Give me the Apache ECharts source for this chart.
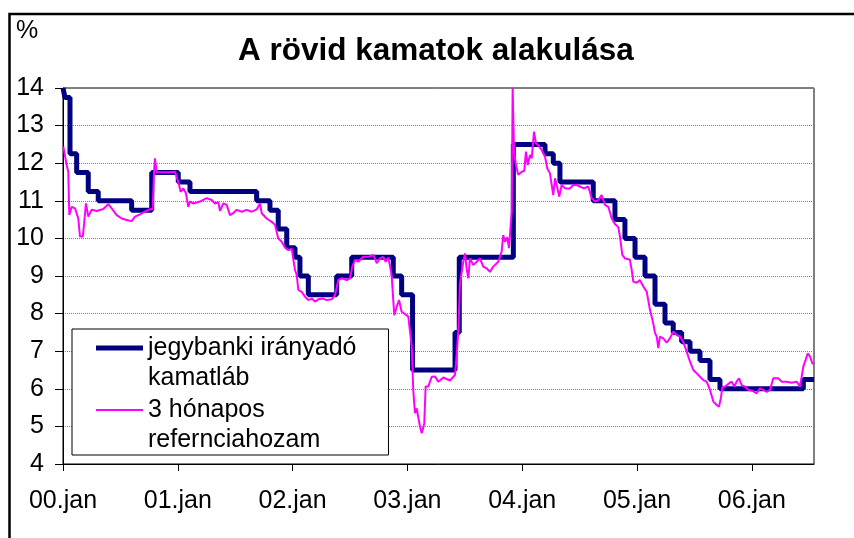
<!DOCTYPE html>
<html>
<head>
<meta charset="utf-8">
<script src="https://cdn.jsdelivr.net/npm/echarts@6/dist/echarts.min.js"></script>
<style>
html,body{margin:0;padding:0;background:#fff;}
#c{width:854px;height:538px;}
</style>
</head>
<body>
<div id="c"></div>
<script>
const FONT = '"Liberation Sans", Arial, Helvetica, sans-serif';

const titleText = 'A rövid kamatok alakulása';
const unitLabel = '%';
const seriesNames = ['jegybanki irányadó\nkamatláb', '3 hónapos\nrefernciahozam'];

// x axis: decimal years
const xMin = 2000;
const xMax = 2006.542;
const yearTicks = [2000, 2001, 2002, 2003, 2004, 2005, 2006];
const yearLabels = ['00.jan', '01.jan', '02.jan', '03.jan', '04.jan', '05.jan', '06.jan'];
const yMin = 4;
const yMax = 14;

// central bank base rate: change dates (decimal years) and new levels
const rateYears = [
  2000.000, 2000.017, 2000.061, 2000.119, 2000.220, 2000.307, 2000.598, 2000.773,
  2001.004, 2001.106, 2001.687, 2001.803, 2001.875, 2001.949,
  2002.021, 2002.064, 2002.137, 2002.384, 2002.515, 2002.877, 2002.950,
  2003.045, 2003.415, 2003.452, 2003.923,
  2004.199, 2004.271, 2004.329, 2004.619, 2004.808, 2004.895, 2004.983,
  2005.070, 2005.157, 2005.244, 2005.316, 2005.389, 2005.462, 2005.549, 2005.636, 2005.723,
  2006.449, 2006.542
];
const rateValues = [
  14.00, 13.75, 12.25, 11.75, 11.25, 11.00, 10.75, 11.75,
  11.50, 11.25, 11.00, 10.75, 10.25, 9.75,
  9.50, 9.00, 8.50, 9.00, 9.50, 9.00, 8.50,
  6.50, 7.50, 9.50, 12.50,
  12.25, 12.00, 11.50, 11.00, 10.50, 10.00, 9.50,
  9.00, 8.25, 7.75, 7.50, 7.25, 7.00, 6.75, 6.25, 6.00,
  6.25, 6.25
];

// 3-month reference yield
const yieldYears = [
  // 2000
  2000.003, 2000.032, 2000.046, 2000.055, 2000.076, 2000.105, 2000.133, 2000.148,
  2000.172, 2000.183, 2000.200, 2000.220, 2000.250, 2000.294, 2000.351, 2000.395,
  2000.424, 2000.468, 2000.511, 2000.555, 2000.598, 2000.627, 2000.671, 2000.714,
  2000.758, 2000.781, 2000.793, 2000.801, 2000.816, 2000.874, 2000.932, 2000.976,
  // 2001
  2001.004, 2001.025, 2001.048, 2001.071, 2001.091, 2001.106, 2001.135, 2001.193,
  2001.252, 2001.295, 2001.324, 2001.353, 2001.368, 2001.396, 2001.426, 2001.455,
  2001.483, 2001.513, 2001.557, 2001.600, 2001.644, 2001.687, 2001.716, 2001.731,
  2001.774, 2001.818, 2001.847, 2001.875, 2001.905, 2001.934, 2001.963, 2001.992,
  // 2002
  2002.021, 2002.036, 2002.050, 2002.079, 2002.108, 2002.137, 2002.166, 2002.195,
  2002.224, 2002.267, 2002.297, 2002.341, 2002.369, 2002.398, 2002.428, 2002.471,
  2002.500, 2002.520, 2002.544, 2002.572, 2002.616, 2002.659, 2002.703, 2002.733,
  2002.761, 2002.790, 2002.811, 2002.834, 2002.863, 2002.877, 2002.886, 2002.907,
  2002.927, 2002.950, 2002.979,
  // 2003
  2003.008, 2003.038, 2003.051, 2003.066, 2003.081, 2003.095, 2003.110, 2003.125,
  2003.147, 2003.159, 2003.182, 2003.212, 2003.240, 2003.269, 2003.313, 2003.371,
  2003.415, 2003.433, 2003.446, 2003.458, 2003.473, 2003.487, 2003.502, 2003.516,
  2003.531, 2003.545, 2003.574, 2003.604, 2003.632, 2003.661, 2003.691, 2003.720,
  2003.748, 2003.792, 2003.821, 2003.835, 2003.850, 2003.870, 2003.885, 2003.900,
  2003.909, 2003.917, 2003.929, 2003.946, 2003.966, 2003.996,
  // 2004
  2004.018, 2004.033, 2004.048, 2004.068, 2004.083, 2004.103, 2004.120, 2004.140,
  2004.170, 2004.199, 2004.219, 2004.242, 2004.257, 2004.271, 2004.286, 2004.301,
  2004.323, 2004.344, 2004.373, 2004.416, 2004.445, 2004.475, 2004.503, 2004.538,
  2004.576, 2004.605, 2004.634, 2004.663, 2004.692, 2004.721, 2004.750, 2004.780,
  2004.808, 2004.837, 2004.852, 2004.872, 2004.895, 2004.939, 2004.954, 2004.968,
  2004.997,
  // 2005
  2005.026, 2005.055, 2005.085, 2005.098, 2005.113, 2005.142, 2005.157, 2005.172,
  2005.186, 2005.200, 2005.229, 2005.259, 2005.287, 2005.316, 2005.346, 2005.375,
  2005.403, 2005.433, 2005.462, 2005.491, 2005.521, 2005.549, 2005.578, 2005.607,
  2005.636, 2005.665, 2005.694, 2005.714, 2005.732, 2005.743, 2005.767, 2005.795,
  2005.825, 2005.848, 2005.868, 2005.889, 2005.912, 2005.941, 2005.970,
  // 2006
  2006.004, 2006.043, 2006.071, 2006.100, 2006.130, 2006.159, 2006.187, 2006.202,
  2006.231, 2006.260, 2006.304, 2006.348, 2006.391, 2006.420, 2006.449, 2006.469,
  2006.487, 2006.507, 2006.527, 2006.542
];
const yieldValues = [
  // 2000
  12.44, 11.95, 11.77, 10.62, 10.84, 10.80, 10.53, 10.05,
  10.05, 10.36, 10.93, 10.58, 10.76, 10.73, 10.78, 10.91,
  10.80, 10.62, 10.53, 10.49, 10.46, 10.58, 10.64, 10.71,
  10.78, 10.76, 11.77, 12.13, 11.76, 11.76, 11.76, 11.77,
  // 2001
  11.51, 11.24, 11.33, 11.20, 10.84, 10.98, 10.93, 10.98,
  11.07, 11.02, 10.93, 10.96, 10.73, 10.93, 10.89, 10.62,
  10.67, 10.76, 10.71, 10.76, 10.71, 10.77, 10.93, 10.67,
  10.53, 10.44, 10.36, 10.00, 9.91, 9.76, 9.69, 9.73,
  // 2002
  9.16, 9.03, 8.63, 8.58, 8.45, 8.36, 8.40, 8.32,
  8.38, 8.40, 8.36, 8.38, 8.49, 8.89, 8.94, 8.89,
  8.94, 9.25, 9.43, 9.38, 9.51, 9.51, 9.56, 9.34,
  9.47, 9.51, 9.38, 9.49, 9.03, 8.36, 7.96, 8.18,
  8.36, 8.05, 7.99,
  // 2003
  7.92, 7.12, 5.97, 5.35, 5.48, 5.44, 4.99, 4.82,
  5.08, 6.06, 6.06, 6.32, 6.33, 6.19, 6.30, 6.22,
  6.37, 7.05, 7.70, 8.80, 9.10, 9.38, 9.60, 9.20,
  8.94, 9.47, 9.29, 9.38, 9.47, 9.25, 9.20, 9.11,
  9.25, 9.38, 9.65, 10.09, 9.91, 10.03, 9.74, 10.36,
  10.71, 14.00, 12.31, 11.95, 11.69, 11.77,
  // 2004
  11.80, 12.31, 11.95, 12.22, 12.13, 12.84, 12.53, 12.48,
  12.35, 12.17, 11.86, 11.73, 11.42, 11.15, 11.60, 11.42,
  11.11, 11.42, 11.33, 11.33, 11.42, 11.42, 11.38, 11.33,
  11.38, 11.07, 10.98, 11.02, 11.15, 10.89, 10.84, 10.53,
  10.38, 10.30, 10.05, 9.56, 9.47, 9.43, 9.16, 8.85,
  8.82,
  // 2005
  8.89, 8.72, 8.58, 8.36, 8.10, 7.74, 7.48, 7.39,
  7.08, 7.39, 7.34, 7.23, 7.34, 7.52, 7.43, 7.39,
  7.25, 6.99, 6.72, 6.50, 6.41, 6.32, 6.23, 6.19,
  5.97, 5.66, 5.57, 5.52, 5.77, 6.04, 6.06, 6.13,
  6.19, 6.06, 6.19, 6.28, 6.10, 6.06, 5.97,
  // 2006
  5.95, 5.88, 6.01, 5.97, 5.92, 5.97, 6.28, 6.23,
  6.28, 6.19, 6.19, 6.16, 6.19, 6.06, 6.59, 6.77,
  6.94, 6.86, 6.68, 6.66
];

const rateData = rateYears.map((t, i) => [t, rateValues[i]]);
const yieldData = yieldYears.map((t, i) => [t, yieldValues[i]]);

const navyIcon = 'path://M0,0L0.01,0L0,0.01Z M0,12.5L47,12.5L47,17.5L0,17.5Z M47,60L46.99,60L47,59.99Z';
const magentaIcon = 'path://M0,0L0.01,0L0,0.01Z M0,14L47,14L47,16L0,16Z M47,60L46.99,60L47,59.99Z';

const chart = echarts.init(document.getElementById('c'), null, {renderer: 'canvas'});
chart.setOption({
  animation: false,
  backgroundColor: '#ffffff',
  title: {
    text: titleText,
    left: 238,
    top: 35,
    padding: 0,
    textStyle: {fontFamily: FONT, fontSize: 31.5, fontWeight: 'bold', color: '#000'}
  },
  graphic: [
    {
      type: 'rect', silent: true, z: -1,
      shape: {x: 9.5, y: 14, width: 900, height: 600},
      style: {fill: 'none', stroke: '#000', lineWidth: 2.5}
    },
    {
      type: 'text', silent: true,
      style: {text: unitLabel, x: 16, y: 19, font: '25px ' + FONT, fill: '#000', textVerticalAlign: 'top'}
    }
  ],
  grid: {
    left: 63, right: 40, top: 88, bottom: 74,
    show: true, borderColor: '#000', borderWidth: 1, backgroundColor: 'transparent'
  },
  legend: {
    orient: 'vertical',
    left: 72, top: 329,
    padding: [4, 32, 0, 24],
    itemGap: 2,
    itemWidth: 47,
    itemHeight: 60,
    symbolKeepAspect: false,
    selectedMode: false,
    backgroundColor: '#fff',
    borderColor: '#000',
    borderWidth: 1,
    itemStyle: {borderWidth: 0},
    textStyle: {fontFamily: FONT, fontSize: 25, lineHeight: 30, color: '#000'},
    data: [
      {name: seriesNames[0], icon: navyIcon},
      {name: seriesNames[1], icon: magentaIcon}
    ]
  },
  xAxis: {
    type: 'value',
    min: xMin, max: xMax, interval: 1,
    axisLine: {show: true, onZero: false, lineStyle: {color: '#000', width: 1}},
    axisTick: {show: true, length: 7, customValues: yearTicks, lineStyle: {color: '#000'}},
    axisLabel: {
      customValues: yearTicks,
      formatter: v => yearLabels[yearTicks.indexOf(Math.round(v))] || '',
      margin: 25, fontFamily: FONT, fontSize: 25, color: '#000'
    },
    splitLine: {show: false}
  },
  yAxis: {
    type: 'value',
    min: yMin, max: yMax, interval: 1,
    axisLine: {show: true, lineStyle: {color: '#000', width: 1}},
    axisTick: {show: true, length: 8, lineStyle: {color: '#000'}},
    axisLabel: {margin: 19, fontFamily: FONT, fontSize: 25, color: '#000'},
    splitLine: {show: true, lineStyle: {color: '#808080', type: 'dotted', width: 1}}
  },
  series: [
    {
      name: seriesNames[0],
      type: 'line',
      step: 'end',
      data: rateData,
      symbol: 'none',
      color: '#000080',
      lineStyle: {color: '#000080', width: 5},
      clip: true
    },
    {
      name: seriesNames[1],
      type: 'line',
      data: yieldData,
      symbol: 'none',
      color: '#ff00ff',
      lineStyle: {color: '#ff00ff', width: 2},
      clip: true
    }
  ]
});
</script>
</body>
</html>
